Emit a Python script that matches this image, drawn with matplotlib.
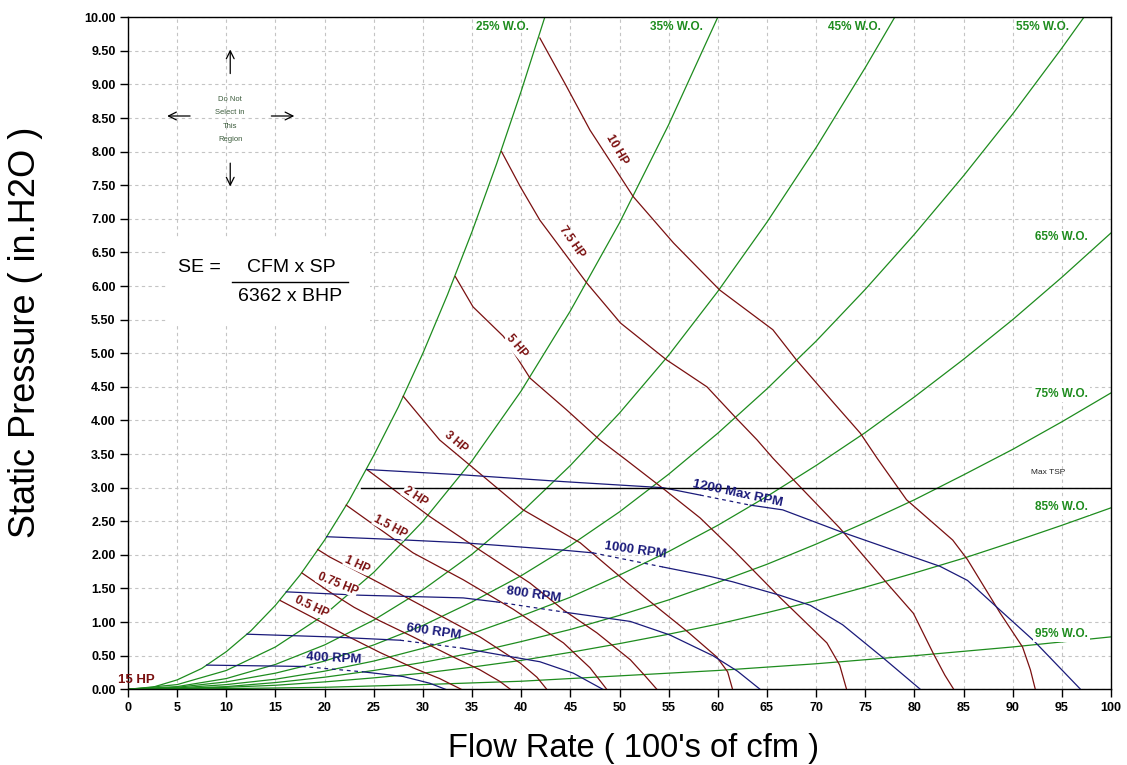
import matplotlib
matplotlib.use("Agg")
import matplotlib.pyplot as plt
import numpy as np
from matplotlib.patches import Rectangle

plt.rcParams['font.family'] = ['Liberation Sans', 'DejaVu Sans']

#? System (wide open) curves
wo25_x = [0, 2.5, 5, 7.5, 10, 12.5, 15, 17.5, 20, 22.5, 25, 27.5, 30, 32.5, 35, 37.5, 40, 42.4]
wo25_y = [0, 0.03, 0.14, 0.31, 0.56, 0.87, 1.25, 1.70, 2.22, 2.81, 3.48, 4.20, 5.00, 5.87, 6.81, 7.82, 8.90, 10.0]
wo35_x = [0, 5, 10, 15, 20, 25, 30, 35, 40, 45, 50, 55, 60]
wo35_y = [0, 0.07, 0.28, 0.63, 1.11, 1.74, 2.50, 3.40, 4.44, 5.63, 6.94, 8.40, 10.0]
wo45_x = [0, 5, 10, 15, 20, 25, 30, 35, 40, 45, 50, 55, 60, 65, 70, 75, 78]
wo45_y = [0, 0.04, 0.16, 0.37, 0.66, 1.03, 1.48, 2.01, 2.63, 3.33, 4.11, 4.97, 5.92, 6.95, 8.06, 9.25, 10.0]
wo55_x = [0, 5, 10, 15, 20, 25, 30, 35, 40, 45, 50, 55, 60, 65, 70, 75, 80, 85, 90, 95, 97.25]
wo55_y = [0, 0.03, 0.11, 0.24, 0.42, 0.66, 0.95, 1.30, 1.69, 2.14, 2.64, 3.20, 3.81, 4.47, 5.18, 5.95, 6.77, 7.64, 8.56, 9.54, 10.0]
wo65_x = [0, 5, 10, 15, 20, 25, 30, 35, 40, 45, 50, 55, 60, 65, 70, 75, 80, 85, 90, 95, 100]
wo65_y = [0, 0.02, 0.07, 0.15, 0.27, 0.42, 0.61, 0.83, 1.09, 1.37, 1.70, 2.05, 2.44, 2.87, 3.33, 3.82, 4.35, 4.91, 5.50, 6.13, 6.79]
wo75_x = [0, 5, 10, 15, 20, 25, 30, 35, 40, 45, 50, 55, 60, 65, 70, 75, 80, 85, 90, 95, 100]
wo75_y = [0, 0.01, 0.04, 0.10, 0.18, 0.28, 0.40, 0.54, 0.71, 0.89, 1.10, 1.33, 1.59, 1.86, 2.16, 2.48, 2.82, 3.19, 3.57, 3.98, 4.41]
wo85_x = [0, 5, 10, 15, 20, 25, 30, 35, 40, 45, 50, 55, 60, 65, 70, 75, 80, 85, 90, 95, 100]
wo85_y = [0, 0.01, 0.03, 0.06, 0.11, 0.17, 0.24, 0.33, 0.43, 0.55, 0.68, 0.82, 0.97, 1.14, 1.32, 1.52, 1.73, 1.95, 2.19, 2.44, 2.70]
wo95_x = [0, 10, 20, 30, 40, 50, 60, 70, 80, 90, 100]
wo95_y = [0, 0.01, 0.03, 0.07, 0.12, 0.20, 0.28, 0.38, 0.50, 0.63, 0.78]

#? Fan curves (RPM)
rpm1200_x = [24.3, 34.1, 44.3, 54.4, 58.2, 63.3, 66.6, 72.4, 77.5, 82.6, 85.4, 88.7, 92.1, 96.9]
rpm1200_y = [3.27, 3.19, 3.09, 3.00, 2.89, 2.74, 2.67, 2.35, 2.09, 1.83, 1.62, 1.18, 0.73, 0.0]
rpm1000_x = [20.2, 27.0, 34.1, 44.3, 47.3, 54.4, 59.2, 61.5, 66.3, 69.4, 72.7, 76.8, 80.6]
rpm1000_y = [2.27, 2.23, 2.18, 2.07, 2.03, 1.82, 1.68, 1.60, 1.40, 1.25, 0.96, 0.47, 0.0]
rpm800_x = [16.1, 23.6, 34.1, 37.5, 44.3, 51.1, 55.1, 59.5, 62.0, 64.3]
rpm800_y = [1.45, 1.40, 1.36, 1.30, 1.15, 1.01, 0.81, 0.50, 0.27, 0.0]
rpm600_x = [12.1, 20.5, 27.7, 34.1, 36.8, 41.9, 45.3, 48.3]
rpm600_y = [0.82, 0.78, 0.73, 0.61, 0.54, 0.41, 0.24, 0.0]
rpm400_x = [8.0, 17.7, 23.9, 28.0, 30.7, 32.3]
rpm400_y = [0.36, 0.34, 0.26, 0.19, 0.09, 0.0]

#? Brake horsepower curves
hp05_x = [15.5, 18.9, 22.2, 25.6, 29.0, 31.7, 33.9]
hp05_y = [1.32, 1.06, 0.80, 0.55, 0.32, 0.16, 0.0]
hp075_x = [17.7, 20.5, 23.0, 25.6, 29.0, 32.4, 35.8, 37.8, 38.9]
hp075_y = [1.73, 1.45, 1.22, 1.02, 0.78, 0.53, 0.29, 0.12, 0.0]
hp1_x = [19.3, 20.5, 25.6, 30.7, 35.8, 39.9, 41.6, 42.6]
hp1_y = [2.08, 1.97, 1.58, 1.18, 0.78, 0.39, 0.18, 0.0]
hp15_x = [22.2, 29.0, 34.1, 39.2, 44.3, 47.0, 48.7]
hp15_y = [2.74, 2.03, 1.63, 1.19, 0.69, 0.32, 0.0]
hp2_x = [24.3, 30.7, 35.8, 40.9, 44.3, 47.7, 51.1, 52.6, 53.8]
hp2_y = [3.27, 2.57, 2.07, 1.58, 1.18, 0.84, 0.44, 0.20, 0.0]
hp3_x = [28.0, 31.7, 35.8, 40.2, 46.0, 50.1, 52.9, 56.9, 59.9, 61.0, 61.5]
hp3_y = [4.36, 3.71, 3.21, 2.67, 2.18, 1.67, 1.33, 0.86, 0.48, 0.26, 0.0]
hp5_x = [33.3, 35.1, 38.2, 40.9, 44.6, 48.0, 50.7, 54.5, 58.2, 61.6, 66.3, 71.1, 72.4, 73.1]
hp5_y = [6.14, 5.69, 5.25, 4.63, 4.16, 3.71, 3.41, 2.98, 2.55, 2.07, 1.37, 0.69, 0.36, 0.0]
hp75_x = [38.0, 39.9, 41.9, 46.7, 50.1, 54.8, 58.9, 61.9, 64.0, 65.6, 68.0, 72.4, 77.2, 79.9, 81.9, 83.1, 84.0]
hp75_y = [8.00, 7.48, 6.98, 6.04, 5.45, 4.90, 4.50, 4.03, 3.71, 3.44, 3.07, 2.40, 1.58, 1.13, 0.54, 0.21, 0.0]
hp10_x = [41.9, 44.5, 47.0, 51.4, 55.5, 60.2, 65.6, 68.0, 71.8, 74.5, 76.2, 79.2, 83.9, 85.4, 88.7, 91.0, 91.8, 92.3]
hp10_y = [9.69, 9.00, 8.32, 7.33, 6.64, 5.94, 5.35, 4.90, 4.26, 3.81, 3.44, 2.82, 2.22, 1.93, 1.14, 0.63, 0.29, 0.0]

max_tsp = 3.0
max_tsp_start = 23.7

GREEN = '#1e8c1e'
BROWN = '#7a1010'
BLUE = '#1a1a7a'

fig = plt.figure(figsize=(11.27, 7.65), dpi=100)
ax = fig.add_axes([128 / 1127, 75.7 / 765, 983 / 1127, 672.1 / 765])
ax.set_axisbelow(True)

#? Green system curves
wo_curves = [(wo25_x, wo25_y), (wo35_x, wo35_y), (wo45_x, wo45_y), (wo55_x, wo55_y),
             (wo65_x, wo65_y), (wo75_x, wo75_y), (wo85_x, wo85_y), (wo95_x, wo95_y)]
for cx, cy in wo_curves:
    ax.plot(cx, cy, color=GREEN, lw=0.9, zorder=2)

wo_labels = ['25% W.O.', '35% W.O.', '45% W.O.', '55% W.O.', '65% W.O.', '75% W.O.', '85% W.O.', '95% W.O.']
wo_label_pos = [(38.1, 9.86), (55.8, 9.86), (73.9, 9.86), (93.0, 9.86),
                (95.0, 6.73), (95.0, 4.39), (95.0, 2.71), (95.0, 0.82)]
for i, (lab, (lx, ly)) in enumerate(zip(wo_labels, wo_label_pos)):
    kw = {}
    if i >= 4:
        kw['bbox'] = dict(facecolor='white', edgecolor='none', pad=1.5)
    ax.text(lx, ly, lab, color=GREEN, fontsize=8.5, fontweight='bold',
            ha='center', va='center', zorder=6, **kw)

#? Brown HP curves
hp_curves = [(hp05_x, hp05_y), (hp075_x, hp075_y), (hp1_x, hp1_y), (hp15_x, hp15_y),
             (hp2_x, hp2_y), (hp3_x, hp3_y), (hp5_x, hp5_y), (hp75_x, hp75_y), (hp10_x, hp10_y)]
for cx, cy in hp_curves:
    ax.plot(cx, cy, color=BROWN, lw=0.9, zorder=3)

hp_labels = ['0.5 HP', '0.75 HP', '1 HP', '1.5 HP', '2 HP', '3 HP', '5 HP', '7.5 HP', '10 HP']
hp_label_pos = [(18.7, 1.22, -25), (21.3, 1.57, -22), (23.3, 1.86, -25), (26.7, 2.42, -28),
                (29.2, 2.87, -33), (33.4, 3.68, -40), (39.5, 5.10, -50), (45.1, 6.66, -55),
                (49.7, 8.03, -60)]
for lab, (lx, ly, rot) in zip(hp_labels, hp_label_pos):
    ax.text(lx, ly, lab, color=BROWN, fontsize=8.5, fontweight='bold', rotation=rot,
            ha='center', va='center', rotation_mode='anchor', zorder=6,
            bbox=dict(facecolor='white', edgecolor='none', pad=0.3))
ax.text(0.9, 0.14, '15 HP', color=BROWN, fontsize=9.5, fontweight='bold',
        ha='center', va='center', clip_on=False, zorder=6)

#? Blue fan curves, dashed where the label sits
fan_curves = [(rpm1200_x, rpm1200_y, 58.2, 63.3), (rpm1000_x, rpm1000_y, 47.3, 54.4),
              (rpm800_x, rpm800_y, 37.5, 44.3), (rpm600_x, rpm600_y, 27.7, 34.1),
              (rpm400_x, rpm400_y, 17.7, 23.9)]
for cx, cy, d0, d1 in fan_curves:
    cx = np.array(cx)
    cy = np.array(cy)
    lo = cx <= d0
    mid = (cx >= d0) & (cx <= d1)
    hi = cx >= d1
    ax.plot(cx[lo], cy[lo], color=BLUE, lw=0.9, zorder=4)
    ax.plot(cx[mid], cy[mid], color=BLUE, lw=0.9, ls=(0, (3, 3)), zorder=4)
    ax.plot(cx[hi], cy[hi], color=BLUE, lw=0.9, zorder=4)

rpm_labels = ['1200 Max RPM', '1000 RPM', '800 RPM', '600 RPM', '400 RPM']
rpm_label_pos = [(62.0, 2.91, -12), (51.6, 2.07, -8), (41.3, 1.40, -8), (31.1, 0.86, -8), (20.9, 0.46, -3)]
for lab, (lx, ly, rot) in zip(rpm_labels, rpm_label_pos):
    ax.text(lx, ly, lab, color=BLUE, fontsize=9.5, fontweight='bold', rotation=rot,
            ha='center', va='center', rotation_mode='anchor', zorder=6)

#? Max TSP line
ax.plot([max_tsp_start, 100], [max_tsp, max_tsp], color='black', lw=1.0, zorder=4)
ax.text(93.6, 3.22, 'Max TSP', fontsize=6, ha='center', va='center', color='#222222')

#? Static efficiency formula box
ax.add_patch(Rectangle((4.0, 5.45), 20.6, 1.28, facecolor='white', edgecolor='none', zorder=1))
ax.text(7.3, 6.27, 'SE =', fontsize=14, ha='center', va='center', zorder=6)
ax.text(16.6, 6.27, 'CFM x SP', fontsize=14, ha='center', va='center', zorder=6)
ax.plot([10.6, 22.4], [6.06, 6.06], color='black', lw=1.0, zorder=6)
ax.text(16.5, 5.84, '6362 x BHP', fontsize=14, ha='center', va='center', zorder=6)

#? Do not select region
ax.text(10.4, 8.48, 'Do Not\nSelect in\nThis\nRegion', fontsize=5.5, color='#3b5b3b',
        ha='center', va='center', linespacing=2.3, zorder=6)
arrow = dict(arrowstyle='->', lw=0.9, color='black', mutation_scale=14)
ax.annotate('', xy=(10.4, 9.56), xytext=(10.4, 9.12), arrowprops=arrow)
ax.annotate('', xy=(10.4, 7.44), xytext=(10.4, 7.87), arrowprops=arrow)
ax.annotate('', xy=(3.7, 8.53), xytext=(6.6, 8.53), arrowprops=arrow)
ax.annotate('', xy=(17.2, 8.53), xytext=(14.3, 8.53), arrowprops=arrow)

#? Axes
ax.set_xlim(0, 100)
ax.set_ylim(0, 10)
ax.set_xticks(np.arange(0, 101, 5))
ax.set_yticks(np.arange(0, 10.01, 0.5))
ax.set_xticklabels([str(v) for v in range(0, 101, 5)])
ax.set_yticklabels(['%.2f' % v for v in np.arange(0, 10.01, 0.5)])
ax.tick_params(direction='out', length=6, width=1, labelsize=9, pad=3)
for lab in ax.get_xticklabels() + ax.get_yticklabels():
    lab.set_fontweight('bold')
ax.grid(True, color='#c4c4c4', ls=(0, (3, 3)), lw=0.8)
for sp in ax.spines.values():
    sp.set_color('black')
    sp.set_linewidth(1.0)

fig.text(634 / 1127, 1 - 748 / 765, "Flow Rate ( 100's of cfm )", fontsize=23.5, ha='center', va='center')
fig.text(26 / 1127, 1 - 332 / 765, 'Static Pressure ( in.H2O )', fontsize=26, ha='center', va='center', rotation=90)

fig.savefig('out.png', dpi=100)
